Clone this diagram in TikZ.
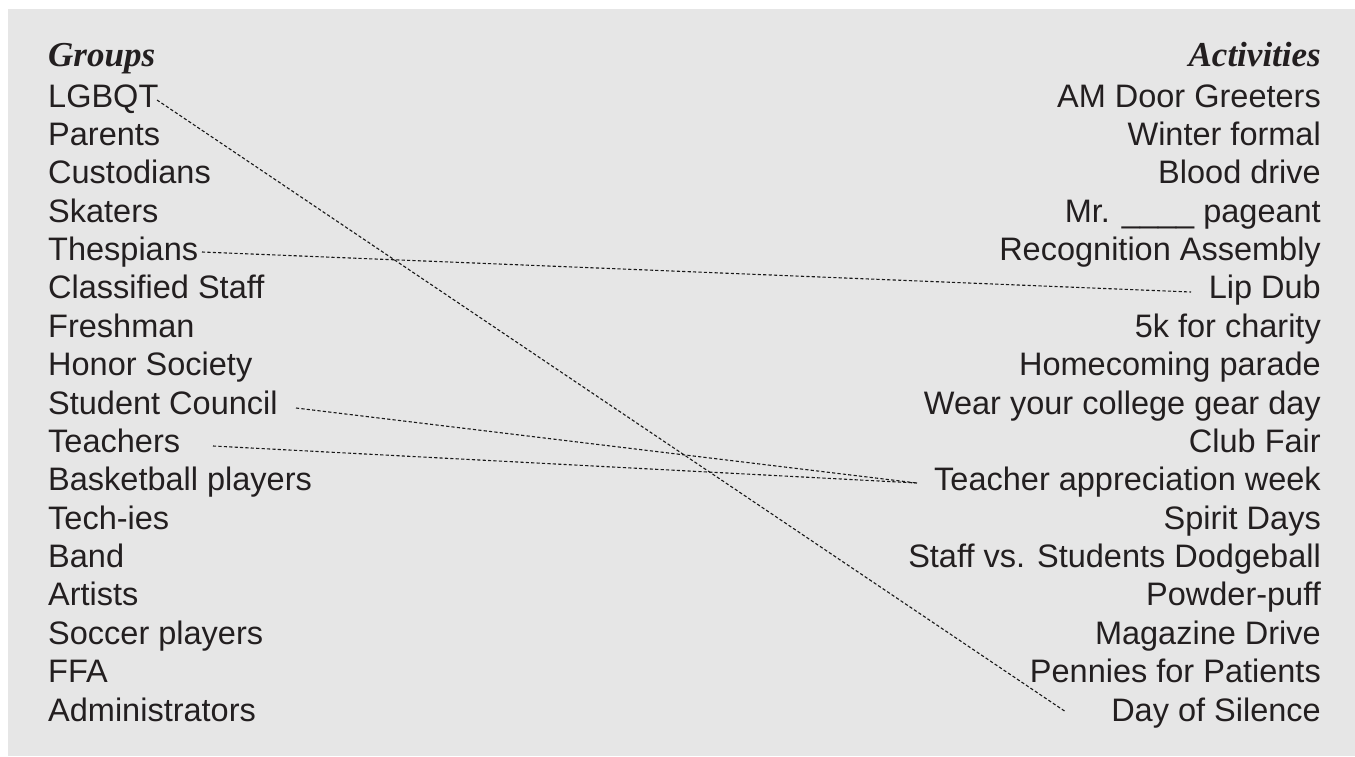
\documentclass[tikz,border=0pt]{standalone}
\usepackage{fontspec}
\setmainfont{Liberation Sans}
\newfontfamily\headfont{Liberation Serif}
\definecolor{bgc}{HTML}{E6E6E6}
\definecolor{txt}{HTML}{231F20}
\tikzset{
  item/.style={inner sep=0pt, text=txt, font=\fontsize{32.5}{39}\selectfont},
  lcol/.style={item, anchor=base west},
  rcol/.style={item, anchor=base east},
  head/.style={inner sep=0pt, text=txt, font=\headfont\bfseries\itshape\fontsize{35}{40}\selectfont},
  link/.style={draw=black!90, line width=1.1pt, dash pattern=on 3.2pt off 2.2pt}
}
\begin{document}
\begin{tikzpicture}[x=1pt,y=-1pt]
\useasboundingbox (0,0) rectangle (1355,756);
\fill[white] (0,0) rectangle (1355,756);
\fill[bgc] (8,9) rectangle (1355,756);
\def\dy{38.375}
\node[head, anchor=base west] (hg) at (48,66) {Groups};
\node[head, anchor=base east] (ha) at (1321,66) {Activities};
\foreach \t [count=\i from 0] in {LGBQT,Parents,Custodians,Skaters,Thespians,Classified Staff,Freshman,Honor Society,Student Council,Teachers,Basketball players,Tech-ies,Band,Artists,Soccer players,FFA,Administrators}
  \node[lcol] (g\i) at (48,107+\i*\dy) {\t};
\foreach \t [count=\i from 0] in {AM Door Greeters,Winter formal,Blood drive,{Mr. \_\_\_\_ pageant},Recognition Assembly,Lip Dub,5k for charity,Homecoming parade,Wear your college gear day,Club Fair,Teacher appreciation week,Spirit Days,Staff vs. Students Dodgeball,Powder-puff,Magazine Drive,Pennies for Patients,Day of Silence}
  \node[rcol] (a\i) at (1321,107+\i*\dy) {\t};
% connector end points next to the texts
\coordinate (s0) at (157,100);
\coordinate (e16) at (1066,712);
\coordinate (s4) at (202,252);
\coordinate (e5) at (1191,292);
\coordinate (s8) at (296,408);
\coordinate (s9) at (213,446);
\coordinate (e10) at (917,483);
\draw[link] (s0) -- (e16);
\draw[link] (s4) -- (e5);
\draw[link] (s8) -- (e10);
\draw[link] (s9) -- (e10);
\end{tikzpicture}
\end{document}
